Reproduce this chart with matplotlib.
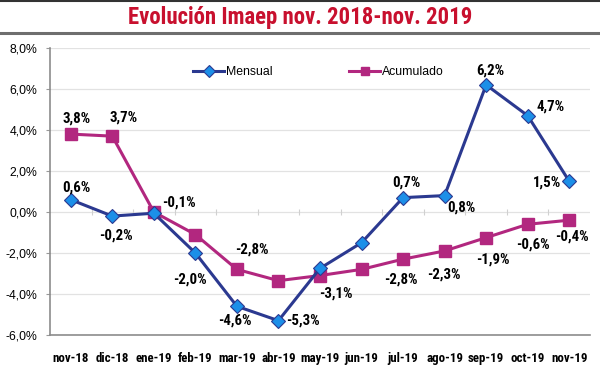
import numpy as np
import matplotlib
matplotlib.use("Agg")
import matplotlib.pyplot as plt
from matplotlib import font_manager as fm
from matplotlib.ticker import FuncFormatter

# datos
meses = ["nov-18", "dic-18", "ene-19", "feb-19", "mar-19", "abr-19", "may-19",
         "jun-19", "jul-19", "ago-19", "sep-19", "oct-19", "nov-19"]
mensual = [0.6, -0.2, -0.06, -2.0, -4.6, -5.3, -2.75, -1.5, 0.7, 0.8, 6.2, 4.7, 1.5]
acumulado = [3.8, 3.7, 0.0, -1.1, -2.8, -3.35, -3.1, -2.8, -2.3, -1.9, -1.25, -0.6, -0.4]

etq_mensual = ["0,6%", "-0,2%", "-0,1%", "-2,0%", "-4,6%", "-5,3%", None,
               None, "0,7%", "0,8%", "6,2%", "4,7%", "1,5%"]
etq_acum = ["3,8%", "3,7%", None, None, "-2,8%", None, "-3,1%",
            "-2,8%", "-2,3%", "-1,9%", None, "-0,6%", "-0,4%"]

# desplazamiento de etiquetas (pixeles)
off_mensual = [(6, 12), (4, -19), (25, 11), (-5, -27), (-2, -14), (24, 0), None,
               None, (3, 15), (17, -12), (4, 14), (23, 9), (-22, -1)]
off_acum = [(6, 16), (11, 19), None, None, (15, 20), None, (16, -18),
            (39, -10), (41, -15), (48, -9), None, (5, -20), (3, -16)]

# buscar una fuente angosta (tipo Arial Narrow)
fuentes = fm.fontManager.ttflist
nombres = {f.name for f in fuentes}
if "Liberation Sans Narrow" in nombres:
    NARROW, STRETCH, K = ["Liberation Sans Narrow"], "normal", 1.0
elif "Roboto Condensed" in nombres:
    NARROW, STRETCH, K = ["Roboto Condensed"], "normal", 0.95
elif any(f.name == "DejaVu Sans" and "ondensed" in f.fname for f in fuentes):
    NARROW, STRETCH, K = ["DejaVu Sans"], "condensed", 0.85
else:
    NARROW, STRETCH, K = ["Roboto"], "normal", 0.82
NORMAL = ["Liberation Sans", "DejaVu Sans"]

c_mens = "#2B3990"
c_mens_fill = "#1C8FE8"
c_acum = "#B2277F"

fig = plt.figure(figsize=(6, 3.72), dpi=100)
fig.patch.set_facecolor("white")

fig.text(0.5, 0.952, "Evolución Imaep nov. 2018-nov. 2019", ha="center", va="center",
         color="#C8102E", fontsize=17.3 * K, fontweight="bold", family=NARROW,
         fontstretch=STRETCH)
fig.add_artist(plt.Line2D([0, 1], [0.911, 0.911], color="#6E6E6E", lw=2.2))
fig.add_artist(plt.Line2D([0, 1], [0.998, 0.998], color="#333333", lw=1.5))

ax = fig.add_axes([0.0833, 0.0995, 0.9, 0.7715])
x = np.arange(len(meses))

ax.plot(x, mensual, color=c_mens, lw=2.2, marker="D", ms=7,
        mfc=c_mens_fill, mec=c_mens, mew=0.8, label="Mensual", zorder=3)
ax.plot(x, acumulado, color=c_acum, lw=2.2, marker="s", ms=8,
        mfc=c_acum, mec=c_acum, label="Acumulado", zorder=2)

for xi, yi, t, o in zip(x, mensual, etq_mensual, off_mensual):
    if t:
        ax.annotate(t, (xi, yi), xytext=o, textcoords="offset pixels", ha="center",
                    va="center", fontsize=11.3 * K, fontweight="bold", family=NARROW,
                    fontstretch=STRETCH)
for xi, yi, t, o in zip(x, acumulado, etq_acum, off_acum):
    if t:
        ax.annotate(t, (xi, yi), xytext=o, textcoords="offset pixels", ha="center",
                    va="center", fontsize=11.3 * K, fontweight="bold", family=NARROW,
                    fontstretch=STRETCH)

ax.set_xlim(-0.5, len(meses) - 0.5)
ax.set_ylim(-6, 8)
ax.set_yticks(np.arange(-6, 9, 2))
ax.yaxis.set_major_formatter(FuncFormatter(lambda v, p: f"{v:.1f}%".replace(".", ",")))
ax.set_xticks(x)
ax.set_xticklabels(meses, fontsize=9.8 * K, fontweight="bold", family=NARROW,
                   fontstretch=STRETCH)
ax.tick_params(axis="x", length=0, pad=12)
ax.tick_params(axis="y", length=3, color="#999999", labelsize=8.8, pad=6)
for lbl in ax.get_yticklabels():
    lbl.set_family(NORMAL)

ax.grid(axis="y", color="#E2E2E2", lw=0.9)
ax.set_axisbelow(True)
ax.vlines(np.arange(0.5, len(meses) - 0.5), -0.15, 0.15, color="#D0D0D0", lw=0.8)
for s in ["top", "right"]:
    ax.spines[s].set_visible(False)
ax.spines["left"].set_color("#8C8C8C")
ax.spines["bottom"].set_color("#8C8C8C")
ax.spines["left"].set_linewidth(1.2)
ax.spines["bottom"].set_linewidth(1.2)

leg = ax.legend(loc="center", bbox_to_anchor=(0.497, 0.916), ncol=2, frameon=False,
                handlelength=2.6, handletextpad=0.15, columnspacing=6.2,
                prop={"family": NORMAL, "size": 8.8})
for h in leg.legend_handles:
    h.set_markersize(6)

fig.savefig("out.png", dpi=100)
